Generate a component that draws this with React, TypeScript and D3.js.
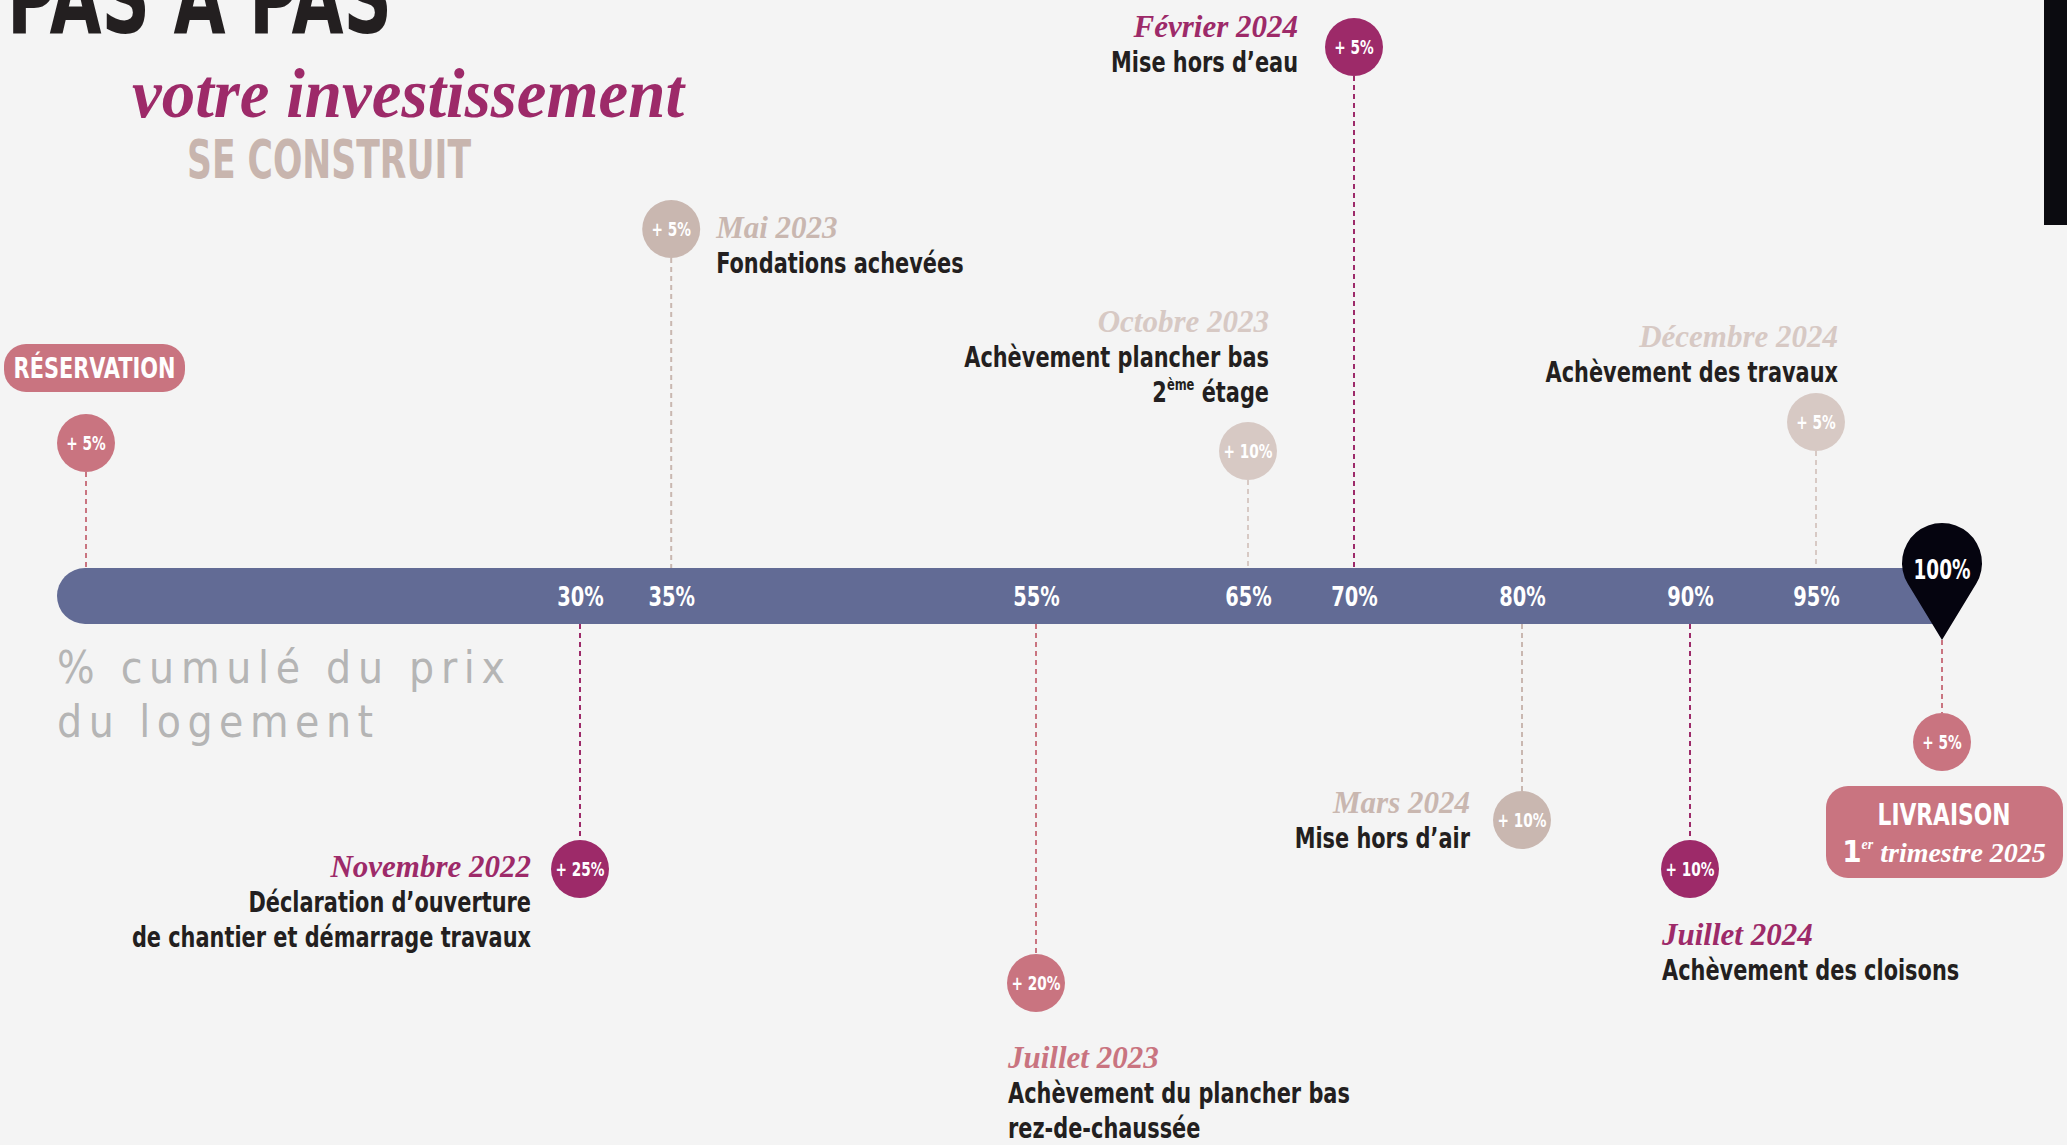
import React, { useEffect, useRef } from 'react';
import * as d3 from 'd3';

// cumulative share of the price paid at each call for funds
const cumulative = [5, 30, 35, 55, 65, 70, 80, 90, 95, 100];
const increments = [5, 25, 5, 20, 10, 5, 10, 10, 5, 5];
const dates = ['', 'Novembre 2022', 'Mai 2023', 'Juillet 2023', 'Octobre 2023', 'Février 2024', 'Mars 2024', 'Juillet 2024', 'Décembre 2024', '1er trimestre 2025'];
const steps = [
  ['RÉSERVATION'],
  ['Déclaration d’ouverture', 'de chantier et démarrage travaux'],
  ['Fondations achevées'],
  ['Achèvement du plancher bas', 'rez-de-chaussée'],
  ['Achèvement plancher bas', '2ème étage'],
  ['Mise hors d’eau'],
  ['Mise hors d’air'],
  ['Achèvement des cloisons'],
  ['Achèvement des travaux'],
  ['LIVRAISON'],
];
const axisTicks = [30, 35, 55, 65, 70, 80, 90, 95];

const W = 2067;
const H = 1145;
const COND = "'Liberation Sans Narrow', 'DejaVu Sans Condensed', 'Roboto', sans-serif";
const SCRIPT = "'Liberation Serif', 'DejaVu Serif', serif";
const SQUEEZE = 0.8; // no narrow font installed, so squeeze glyphs

const tones: Record<string, string> = {
  magenta: '#9d2a69',
  rose: '#c97480',
  taupe: '#c9b7b0',
  light: '#d7c9c4',
};

// placement of each bubble and its caption (not data)
const layout = [
  { cy: 443, tone: 'rose', dx: 0, dateY: 0, anchor: 'start' },
  { cy: 869, tone: 'magenta', dx: -49, dateY: 877, anchor: 'end' },
  { cy: 229, tone: 'taupe', dx: 45, dateY: 238, anchor: 'start' },
  { cy: 983, tone: 'rose', dx: -28, dateY: 1068, anchor: 'start' },
  { cy: 451, tone: 'light', dx: 21, dateY: 332, anchor: 'end' },
  { cy: 47, tone: 'magenta', dx: -56, dateY: 37, anchor: 'end' },
  { cy: 820, tone: 'taupe', dx: -52, dateY: 813, anchor: 'end' },
  { cy: 869, tone: 'magenta', dx: -28, dateY: 945, anchor: 'start' },
  { cy: 422, tone: 'light', dx: 22, dateY: 347, anchor: 'end' },
  { cy: 742, tone: 'rose', dx: 0, dateY: 0, anchor: 'middle' },
];

const squeeze = (sel: any, k = SQUEEZE) => {
  sel.each(function (this: SVGTextElement) {
    const w = this.getComputedTextLength();
    d3.select(this).attr('textLength', w * k).attr('lengthAdjust', 'spacingAndGlyphs');
  });
};

export default function App() {
  const svgRef = useRef<SVGSVGElement | null>(null);

  useEffect(() => {
    if (!svgRef.current) return;
    const svg = d3.select(svgRef.current);
    svg.selectAll('*').remove();

    // the infographic's axis is hand spaced, so use a polylinear scale
    const x = d3.scaleLinear()
      .domain([5, 30, 55, 70, 90, 100])
      .range([86, 580, 1036, 1354, 1690, 1942]);

    const barTop = 568;
    const barH = 56;
    const barBottom = barTop + barH;
    const r = 29;

    svg.append('rect').attr('width', W).attr('height', H).attr('fill', '#f4f4f4');

    // header
    svg.append('text')
      .attr('x', 7).attr('y', 33)
      .attr('font-family', COND).attr('font-weight', 700).attr('font-size', 100)
      .attr('textLength', 385).attr('lengthAdjust', 'spacingAndGlyphs')
      .attr('fill', '#231f20').text('PAS À PAS');
    svg.append('text')
      .attr('x', 132).attr('y', 117)
      .attr('font-family', SCRIPT).attr('font-style', 'italic').attr('font-weight', 700).attr('font-size', 70)
      .attr('textLength', 552).attr('lengthAdjust', 'spacingAndGlyphs')
      .attr('fill', tones.magenta).text('votre investissement');
    svg.append('text')
      .attr('x', 187).attr('y', 178)
      .attr('font-family', COND).attr('font-weight', 700).attr('font-size', 54)
      .attr('textLength', 284).attr('lengthAdjust', 'spacingAndGlyphs')
      .attr('fill', '#c8b5ae').text('SE CONSTRUIT');
    svg.append('rect').attr('x', 2044).attr('y', 0).attr('width', 23).attr('height', 225).attr('fill', '#0b0b10');

    // axis caption
    svg.append('text')
      .attr('x', 57).attr('y', 683)
      .attr('font-family', COND).attr('font-size', 44)
      .attr('textLength', 448).attr('lengthAdjust', 'spacing')
      .attr('fill', '#b5b5b5').text('% cumulé du prix');
    svg.append('text')
      .attr('x', 57).attr('y', 737)
      .attr('font-family', COND).attr('font-size', 44)
      .attr('textLength', 316).attr('lengthAdjust', 'spacing')
      .attr('fill', '#b5b5b5').text('du logement');

    // dashed connectors
    const pinTip = 640;
    svg.append('g').selectAll('line')
      .data(cumulative)
      .join('line')
        .attr('x1', d => x(d)).attr('x2', d => x(d))
        .attr('y1', (d, i) => {
          const l = layout[i];
          if (d === 100) return pinTip;
          return l.cy < barTop ? l.cy + r : barBottom;
        })
        .attr('y2', (d, i) => {
          const l = layout[i];
          return l.cy < barTop ? barTop : l.cy - r;
        })
        .attr('stroke', (d, i) => tones[layout[i].tone])
        .attr('stroke-width', 2)
        .attr('stroke-dasharray', '5 4');

    // progress bar with rounded left end
    const bx0 = x(5) - 29;
    const bx1 = x(100) - 8;
    const br = barH / 2;
    svg.append('path')
      .attr('d', `M${bx0 + br},${barTop}H${bx1}V${barBottom}H${bx0 + br}A${br},${br} 0 0 1 ${bx0 + br},${barTop}Z`)
      .attr('fill', '#626b95');

    // percentage labels on the bar
    const axis = d3.axisBottom(x)
      .tickValues(axisTicks)
      .tickFormat(d => `${d}%`)
      .tickSize(0)
      .tickPadding(0);
    const ag = svg.append('g')
      .attr('transform', `translate(0,606)`)
      .call(axis);
    ag.select('.domain').remove();
    ag.attr('font-family', COND).attr('font-size', 27);
    ag.selectAll('text')
      .attr('y', 0).attr('dy', 0)
      .attr('fill', '#ffffff').attr('font-weight', 700)
      .call(squeeze);

    // 100% pin
    const px = x(100);
    const pr = 40;
    const pcy = 563;
    const dd = pinTip - pcy;
    const ang = Math.acos(pr / dd);
    const tx = pr * Math.sin(ang);
    const ty = pr * Math.cos(ang);
    svg.append('path')
      .attr('d', `M${px},${pinTip}L${px - tx},${pcy + ty}A${pr},${pr} 0 1 1 ${px + tx},${pcy + ty}Z`)
      .attr('fill', '#05040f');
    svg.append('text')
      .attr('x', px).attr('y', 579)
      .attr('text-anchor', 'middle')
      .attr('font-family', COND).attr('font-weight', 700).attr('font-size', 27)
      .attr('fill', '#fff').text('100%')
      .call(squeeze, 0.76);

    // bubbles
    const bubbles = svg.append('g').selectAll('g')
      .data(cumulative)
      .join('g')
        .attr('transform', (d, i) => `translate(${x(d)},${layout[i].cy})`);
    bubbles.append('circle')
      .attr('r', r)
      .attr('fill', (d, i) => tones[layout[i].tone]);
    bubbles.append('text')
      .attr('text-anchor', 'middle').attr('dy', '0.36em')
      .attr('font-family', COND).attr('font-weight', 700).attr('font-size', 19)
      .attr('fill', '#fff')
      .text((d, i) => `+ ${increments[i]}%`)
      .call(squeeze);

    // captions
    const addBody = (g: any, str: string, xx: number, yy: number, anchor: string) => {
      const size = 29;
      const t = g.append('text')
        .attr('x', xx).attr('y', yy)
        .attr('text-anchor', anchor)
        .attr('font-family', COND).attr('font-weight', 700).attr('font-size', size)
        .attr('fill', '#231f20');
      const m = str.match(/^(\d)(ème|er)(\s.*)$/);
      if (m) {
        t.append('tspan').text(m[1]);
        t.append('tspan').attr('font-size', size * 0.55).attr('dy', -size * 0.42).text(m[2]);
        t.append('tspan').attr('dy', size * 0.42).text(m[3]);
      } else {
        t.text(str);
      }
      squeeze(t);
    };

    const captions = svg.append('g');
    cumulative.forEach((c, i) => {
      if (i === 0 || i === cumulative.length - 1) return;
      const l = layout[i];
      const cx = x(c) + l.dx;
      captions.append('text')
        .attr('x', cx).attr('y', l.dateY)
        .attr('text-anchor', l.anchor)
        .attr('font-family', SCRIPT).attr('font-style', 'italic').attr('font-weight', 700).attr('font-size', 31)
        .attr('fill', tones[l.tone])
        .text(dates[i]);
      steps[i].forEach((line, j) => addBody(captions, line, cx, l.dateY + 35 * (j + 1), l.anchor));
    });

    // RÉSERVATION tag
    const rx0 = x(5) - 82;
    svg.append('rect')
      .attr('x', rx0).attr('y', 344).attr('width', 181).attr('height', 48).attr('rx', 22)
      .attr('fill', tones[layout[0].tone]);
    svg.append('text')
      .attr('x', rx0 + 90.5).attr('y', 378)
      .attr('text-anchor', 'middle')
      .attr('font-family', COND).attr('font-weight', 700).attr('font-size', 29)
      .attr('fill', '#fff').text(steps[0][0])
      .call(squeeze);

    // LIVRAISON box
    const lx0 = x(100) - 116;
    svg.append('rect')
      .attr('x', lx0).attr('y', 786).attr('width', 237).attr('height', 92).attr('rx', 22)
      .attr('fill', tones[layout[9].tone]);
    svg.append('text')
      .attr('x', lx0 + 118).attr('y', 825)
      .attr('text-anchor', 'middle')
      .attr('font-family', COND).attr('font-weight', 700).attr('font-size', 31)
      .attr('fill', '#fff').text(steps[9][0])
      .call(squeeze, 0.78);
    const lm = dates[9].match(/^(\d)(er)(\s.*)$/) || ['', '1', 'er', ' trimestre 2025'];
    const lt = svg.append('text')
      .attr('x', lx0 + 118).attr('y', 862)
      .attr('text-anchor', 'middle')
      .attr('fill', '#fff');
    lt.append('tspan').attr('font-family', COND).attr('font-weight', 700).attr('font-size', 31).text(lm[1]);
    lt.append('tspan').attr('font-family', SCRIPT).attr('font-style', 'italic').attr('font-weight', 700)
      .attr('font-size', 14).attr('dy', -13).text(lm[2]);
    lt.append('tspan').attr('font-family', SCRIPT).attr('font-style', 'italic').attr('font-weight', 700)
      .attr('font-size', 28).attr('dy', 13).text(lm[3]);
  }, []);

  return (
    <svg
      ref={svgRef}
      width={W}
      height={H}
      style={{ position: 'absolute', left: 0, top: 0, display: 'block' }}
    />
  );
}
